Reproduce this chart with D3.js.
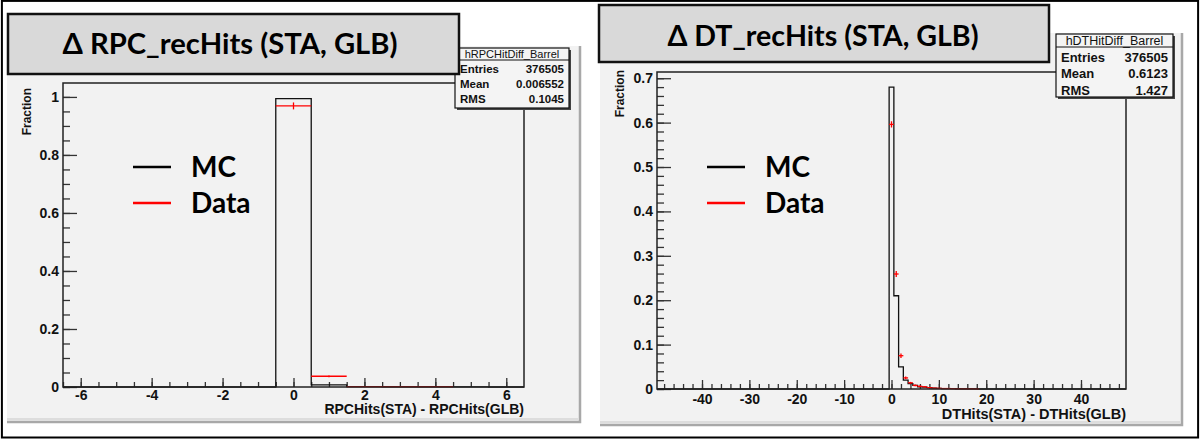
<!DOCTYPE html>
<html>
<head>
<meta charset="utf-8">
<script src="https://cdn.jsdelivr.net/npm/d3@7"></script>
<style>
  body { margin: 0; background: #fff; }
  svg { display: block; }
</style>
</head>
<body>
<div class="chart"></div>
<script>
// ---- data ----
// RPC panel (bin centres, MC fraction, data fraction, data error)
var rpcBins = [-6, -5, -4, -3, -2, -1, 0, 1, 2, 3, 4, 5, 6];
var rpcMC   = [0, 0, 0, 0, 0, 0, 0.994, 0.007, 0.001, 0.0005, 0.0004, 0.0004, 0];
var rpcData = [0, 0, 0, 0, 0, 0, 0.969, 0.037, 0.001, 0.001, 0.001, 0, 0];
var rpcErr  = [0, 0, 0, 0, 0, 0, 0.012, 0.003, 0, 0, 0, 0, 0];
var rpcXTicks = [-6, -4, -2, 0, 2, 4, 6];
var rpcYTicks = [0, 0.2, 0.4, 0.6, 0.8, 1];
var rpcStats = ["hRPCHitDiff_Barrel", ["Entries", "376505"], ["Mean", "0.006552"], ["RMS", "0.1045"]];

// DT panel (only filled bins listed, everything else is empty)
var dtBins = [0, 1, 2, 3, 4, 5, 6, 7, 8, 9, 10, 11, 12, 13, 14, 15, 16, 17, 18];
var dtMC   = [0.68, 0.21, 0.05, 0.02, 0.012, 0.008, 0.005, 0.004, 0.003, 0.002, 0.0015, 0.001, 0.001, 0.0008, 0.0006, 0.0005, 0.0004, 0.0003, 0.0002];
var dtData = [0.596, 0.259, 0.075, 0.025, 0.014, 0.008, 0.006, 0.005, 0.003, 0.002, 0.0015, 0.001, 0.001, 0.0008, 0.0006, 0.0005, 0.0005, 0.0004, 0.0003];
var dtErr  = [0.007, 0.007, 0.005, 0.003, 0.002, 0.002, 0.002, 0.001, 0, 0, 0, 0, 0, 0, 0, 0, 0, 0, 0];
var dtXTicks = [-40, -30, -20, -10, 0, 10, 20, 30, 40];
var dtYTicks = [0, 0.1, 0.2, 0.3, 0.4, 0.5, 0.6, 0.7];
var dtStats = ["hDTHitDiff_Barrel", ["Entries", "376505"], ["Mean", "0.6123"], ["RMS", "1.427"]];

var legendNames = ["MC", "Data"];
var legendColors = ["#000", "#ff0000"];

var svg = d3.select(".chart").append("svg")
  .attr("width", 1201)
  .attr("height", 440);

var TICKFONT = "'Liberation Sans', Arial, Helvetica, sans-serif";
var TITLEFONT = "Lato, 'Open Sans', sans-serif";

// plain hyphen for negatives, like ROOT does
function plainNum(d) { return String(d); }

function drawPanel(p) {
  var g = svg.append("g");

  // pad background with bevel
  g.append("rect")
    .attr("x", p.pad[0]).attr("y", p.pad[1])
    .attr("width", p.pad[2]).attr("height", p.pad[3])
    .attr("fill", "#f2f2f2");
  g.append("path")
    .attr("d", `M${p.pad[0] + p.pad[2]},${p.pad[1]} V${p.pad[1] + p.pad[3]} H${p.pad[0]}`)
    .attr("fill", "none").attr("stroke", "#a8a8a8").attr("stroke-width", 2.5);
  g.append("path")
    .attr("d", `M${p.pad[0]},${p.pad[1] + p.pad[3] - 3} H${p.pad[0] + p.pad[2] - 2}`)
    .attr("fill", "none").attr("stroke", "#c8c8c8").attr("stroke-width", 1);

  var x = d3.scaleLinear().domain(p.xDomain).range([p.frame.left, p.frame.right]);
  var y = d3.scaleLinear().domain(p.yDomain).range([p.frame.bottom, p.frame.top]);

  // ticks (ROOT style: pointing inside)
  var yMinor = d3.range(0, p.yDomain[1] + 1e-9, p.yMinorStep);
  g.append("g")
    .attr("transform", `translate(${p.frame.left},0)`)
    .call(d3.axisLeft(y).tickValues(yMinor).tickSizeInner(-7).tickSizeOuter(0).tickFormat(""))
    .call(a => a.select(".domain").remove())
    .call(a => a.selectAll("line").attr("stroke", "#333").attr("stroke-width", 1.3));
  g.append("g")
    .attr("transform", `translate(${p.frame.left},0)`)
    .call(d3.axisLeft(y).tickValues(p.yTicks).tickSizeInner(-14).tickSizeOuter(0).tickPadding(4)
      .tickFormat(plainNum))
    .call(a => a.select(".domain").remove())
    .call(a => a.selectAll("line").attr("stroke", "#333").attr("stroke-width", 1.3))
    .call(a => a.selectAll("text").attr("font-family", TICKFONT).attr("font-weight", "bold")
      .attr("font-size", "14px").attr("fill", "#111"));

  var xMinor = d3.range(p.xMinorStart, p.xDomain[1], p.xMinorStep);
  g.append("g")
    .attr("transform", `translate(0,${p.frame.bottom})`)
    .call(d3.axisBottom(x).tickValues(xMinor).tickSizeInner(-5).tickSizeOuter(0).tickFormat(""))
    .call(a => a.select(".domain").remove())
    .call(a => a.selectAll("line").attr("stroke", "#333").attr("stroke-width", 1.3));
  g.append("g")
    .attr("transform", `translate(0,${p.frame.bottom})`)
    .call(d3.axisBottom(x).tickValues(p.xTicks).tickSizeInner(-9).tickSizeOuter(0).tickPadding(p.xPad)
      .tickFormat(plainNum))
    .call(a => a.select(".domain").remove())
    .call(a => a.selectAll("line").attr("stroke", "#333").attr("stroke-width", 1.3))
    .call(a => a.selectAll("text").attr("font-family", TICKFONT).attr("font-weight", "bold")
      .attr("font-size", "14px").attr("fill", "#111"));

  // MC histogram as a step line
  var pts = [[p.xDomain[0], 0]];
  p.bins.forEach((b, i) => pts.push([b - 0.5, p.mc[i]]));
  pts.push([p.bins[p.bins.length - 1] + 0.5, 0]);
  pts.push([p.xDomain[1], 0]);
  var step = d3.line().x(d => x(d[0])).y(d => y(d[1])).curve(d3.curveStepAfter);
  g.append("path")
    .attr("d", step(pts))
    .attr("fill", "none").attr("stroke", "#111").attr("stroke-width", 1.3);

  // data: horizontal bin line + vertical error
  var dat = p.bins.map((b, i) => ({ b: b, v: p.data[i], e: p.err[i] })).filter(d => d.v > 0);
  g.selectAll(".dh").data(dat).enter().append("line")
    .attr("x1", d => x(d.b - 0.5)).attr("x2", d => x(d.b + 0.5))
    .attr("y1", d => y(d.v)).attr("y2", d => y(d.v))
    .attr("stroke", "#ff0000").attr("stroke-width", 1.3);
  g.selectAll(".dv").data(dat.filter(d => d.e > 0)).enter().append("line")
    .attr("x1", d => x(d.b)).attr("x2", d => x(d.b))
    .attr("y1", d => y(d.v - d.e)).attr("y2", d => y(d.v + d.e))
    .attr("stroke", "#ff0000").attr("stroke-width", 1.3);

  // frame
  g.append("rect")
    .attr("x", p.frame.left).attr("y", p.frame.top)
    .attr("width", p.frame.right - p.frame.left).attr("height", p.frame.bottom - p.frame.top)
    .attr("fill", "none").attr("stroke", "#222").attr("stroke-width", 1.5);

  // axis titles
  g.append("text")
    .attr("transform", `translate(${p.yLabel[0]},${p.yLabel[1]}) rotate(-90)`)
    .attr("text-anchor", "end").attr("dy", "0.35em")
    .attr("font-family", TICKFONT).attr("font-weight", "bold").attr("font-size", "12px")
    .attr("fill", "#111")
    .text("Fraction");
  g.append("text")
    .attr("x", p.frame.right).attr("y", p.xLabelY)
    .attr("text-anchor", "end")
    .attr("font-family", TICKFONT).attr("font-weight", "bold").attr("font-size", p.xLabelSize + "px")
    .attr("fill", "#111")
    .text(p.xLabel);

  // legend
  legendNames.forEach((name, i) => {
    var ly = p.legend[1] + i * 36;
    g.append("line")
      .attr("x1", p.legend[0]).attr("x2", p.legend[0] + 38)
      .attr("y1", ly).attr("y2", ly)
      .attr("stroke", legendColors[i]).attr("stroke-width", 2.7);
    g.append("text")
      .attr("x", p.legend[0] + 58).attr("y", ly + 10)
      .attr("font-family", TITLEFONT).attr("font-weight", "bold").attr("font-size", "28px")
      .attr("fill", "#000")
      .text(name);
  });

  // stats box
  var s = p.statsBox, st = p.stats;
  g.append("rect")
    .attr("x", s.x + 2).attr("y", s.y + 2).attr("width", s.w).attr("height", s.h)
    .attr("fill", "#444");
  g.append("rect")
    .attr("x", s.x).attr("y", s.y).attr("width", s.w).attr("height", s.h)
    .attr("fill", "#f4f4f4").attr("stroke", "#111").attr("stroke-width", 1.2);
  g.append("line")
    .attr("x1", s.x).attr("x2", s.x + s.w)
    .attr("y1", s.y + s.head).attr("y2", s.y + s.head)
    .attr("stroke", "#111").attr("stroke-width", 1.2);
  g.append("text")
    .attr("x", s.x + s.w / 2).attr("y", s.y + s.head / 2).attr("dy", "0.36em")
    .attr("text-anchor", "middle")
    .attr("font-family", TICKFONT).attr("font-size", (s.font - 0.5) + "px").attr("fill", "#111")
    .text(st[0]);
  st.slice(1).forEach((row, i) => {
    var ry = s.rowY + i * s.rowGap;
    g.append("text")
      .attr("x", s.x + 5).attr("y", ry).attr("dy", "0.36em")
      .attr("font-family", TICKFONT).attr("font-weight", "bold").attr("font-size", s.font + "px")
      .attr("fill", "#111").text(row[0]);
    g.append("text")
      .attr("x", s.x + s.w - 5).attr("y", ry).attr("dy", "0.36em")
      .attr("text-anchor", "end")
      .attr("font-family", TICKFONT).attr("font-weight", "bold").attr("font-size", s.font + "px")
      .attr("fill", "#111").text(row[1]);
  });

  // title box
  var t = p.titleBox;
  g.append("rect")
    .attr("x", t.x).attr("y", t.y).attr("width", t.w).attr("height", t.h)
    .attr("fill", "#d9d9d9").attr("stroke", "#111").attr("stroke-width", 2.5);
  g.append("text")
    .attr("x", t.tx).attr("y", t.ty)
    .attr("text-anchor", "middle")
    .attr("font-family", TITLEFONT).attr("font-weight", "bold").attr("font-size", "29px")
    .attr("textLength", t.tw).attr("lengthAdjust", "spacingAndGlyphs")
    .attr("fill", "#000")
    .text(p.title);
}

drawPanel({
  pad: [7, 46, 573, 376],
  frame: { left: 63, right: 524, top: 83, bottom: 387 },
  xDomain: [-6.5, 6.5], yDomain: [0, 1.048],
  xTicks: rpcXTicks, yTicks: rpcYTicks,
  xMinorStart: -6.5, xMinorStep: 0.5, yMinorStep: 0.05, xPad: 3,
  bins: rpcBins, mc: rpcMC, data: rpcData, err: rpcErr,
  yLabel: [27, 88],
  xLabel: "RPCHits(STA) - RPCHits(GLB)", xLabelY: 414, xLabelSize: 14,
  legend: [133, 167],
  stats: rpcStats,
  statsBox: { x: 455, y: 48, w: 114, h: 60, head: 12, font: 11.5, rowY: 69, rowGap: 15 },
  title: "Δ RPC_recHits (STA, GLB)",
  titleBox: { x: 8, y: 14, w: 451, h: 60, tx: 230, ty: 54, tw: 335 }
});

drawPanel({
  pad: [600, 33, 582, 392],
  frame: { left: 657, right: 1126, top: 72, bottom: 389 },
  xDomain: [-49.5, 49.5], yDomain: [0, 0.714],
  xTicks: dtXTicks, yTicks: dtYTicks,
  xMinorStart: -48, xMinorStep: 2, yMinorStep: 0.02, xPad: 5,
  bins: dtBins, mc: dtMC, data: dtData, err: dtErr,
  yLabel: [620, 70],
  xLabel: "DTHits(STA) - DTHits(GLB)", xLabelY: 419, xLabelSize: 14.5,
  legend: [707, 167],
  stats: dtStats,
  statsBox: { x: 1056, y: 34, w: 117, h: 63, head: 13, font: 13, rowY: 57, rowGap: 16.5 },
  title: "Δ DT_recHits (STA, GLB)",
  titleBox: { x: 599, y: 5, w: 450, h: 57, tx: 823, ty: 46, tw: 311 }
});

// outer border
svg.append("rect")
  .attr("x", 1.9).attr("y", 0.9).attr("width", 1196.2).attr("height", 436.6)
  .attr("fill", "none").attr("stroke", "#000").attr("stroke-width", 2);
</script>
</body>
</html>
